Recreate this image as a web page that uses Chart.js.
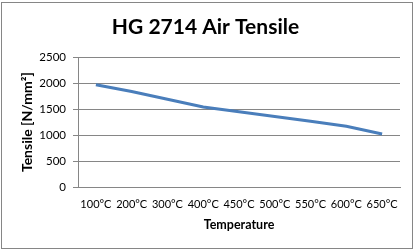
<!DOCTYPE html>
<html>
<head>
<meta charset="utf-8">
<script src="https://cdn.jsdelivr.net/npm/chart.js@4/dist/chart.umd.min.js"></script>
<style>
html,body{margin:0;padding:0;background:#fff;}
#wrap{width:416px;height:251px;position:relative;}
</style>
</head>
<body>
<div id="wrap"><canvas id="c" width="416" height="251"></canvas></div>
<script>
const categories = ["100°C","200°C","300°C","400°C","450°C","500°C","550°C","600°C","650°C"];
const tensile = [1970, 1840, 1690, 1540, 1450, 1360, 1265, 1170, 1020];
const yTicks = [0, 500, 1000, 1500, 2000, 2500];

const FONT = "Lato, 'Open Sans', sans-serif";

const frame = {
  id: 'frame',
  afterDraw(chart) {
    const ctx = chart.ctx;
    ctx.save();
    ctx.strokeStyle = '#868686';
    ctx.lineWidth = 1;
    ctx.strokeRect(1.5, 2.5, 411, 246);
    ctx.restore();
  },
  beforeDraw(chart) {
    const ctx = chart.ctx;
    ctx.save();
    ctx.fillStyle = '#fff';
    ctx.fillRect(0, 0, chart.width, chart.height);
    ctx.restore();
  }
};

new Chart(document.getElementById('c'), {
  type: 'line',
  data: {
    labels: categories,
    datasets: [{
      data: tensile,
      borderColor: '#4A7EBB',
      borderWidth: 3,
      pointRadius: 0,
      tension: 0,
      fill: false
    }]
  },
  options: {
    responsive: false,
    animation: false,
    devicePixelRatio: 1,
    layout: { padding: { left: 11, right: 16, top: 0, bottom: 16 } },
    plugins: {
      legend: { display: false },
      tooltip: { enabled: false },
      title: {
        display: true,
        text: 'HG 2714 Air Tensile',
        color: '#000',
        font: { family: FONT, size: 21, weight: 'bold' },
        padding: { top: 15, bottom: 17 }
      }
    },
    scales: {
      x: {
        type: 'category',
        offset: true,
        grid: { display: false, drawTicks: false },
        border: { display: true, color: '#868686' },
        ticks: { color: '#000', font: { family: FONT, size: 11 }, padding: 11, maxRotation: 0, autoSkip: false },
        title: { display: true, text: 'Temperature', color: '#000', font: { family: FONT, size: 12.5, weight: 'bold' }, padding: { top: 4, bottom: 3 } },
        afterFit(s) { s.height = 48; }
      },
      y: {
        min: 0,
        max: 2500,
        afterBuildTicks(s) { s.ticks = yTicks.map(v => ({ value: v })); },
        grid: { color: '#868686', tickLength: 5, drawTicks: true },
        border: { display: true, color: '#868686' },
        ticks: { color: '#000', font: { family: FONT, size: 11.5 }, padding: 7, callback: v => String(v) },
        title: { display: true, text: 'Tensile [N/mm²]', color: '#000', font: { family: FONT, size: 14, weight: 'bold' }, padding: { top: 8, bottom: 4 } },
        afterFit(s) { s.width = 67; }
      }
    }
  },
  plugins: [frame]
});
</script>
</body>
</html>
